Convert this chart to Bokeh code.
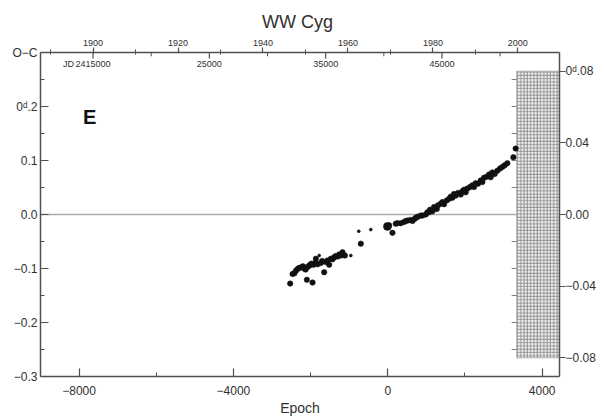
from bokeh.plotting import figure
from bokeh.models import Range1d, LinearAxis, FixedTicker, Label, Span
from bokeh.embed import file_html
from bokeh.resources import INLINE
from bokeh.core.properties import value

# ---------------- data ----------------
title_text = "WW  Cyg"
y_label = "O\u2212C"
x_label = "Epoch"
panel_letter = "E"

period = 3.3177          # days
t0_jd = 2440341          # JD of epoch 0
t0_year = 1969.38        # year of epoch 0

epoch = [-2530, -2467, -2420, -2380, -2338, -2300, -2252, -2200, -2167, -2130,
         -2097, -2079, -2040, -2011, -1980, -1950, -1924, -1880, -1864, -1820,
         -1778, -1735, -1700, -1649, -1605, -1560, -1520, -1476, -1430, -1390,
         -1350, -1303, -1260, -1217, -1174, -1113, -958,
         -751, -699, -440,
         -9, 34, 121, 207, 250, 337, 420, 466, 520, 595,
         640, 700, 725, 780, 854, 897, 984, 1027, 1070, 1096,
         1156, 1200, 1269, 1303, 1372, 1415, 1458, 1528, 1588, 1631,
         1674, 1717, 1761, 1821, 1890, 1933, 1976, 2019, 2063, 2132,
         2192, 2235, 2278, 2339, 2408, 2451, 2494, 2563, 2623, 2667,
         2710, 2770, 2839, 2908, 2969, 3029, 3098, 3254, 3314]
o_c = [-0.128, -0.110, -0.109, -0.104, -0.101, -0.099, -0.098, -0.096, -0.100, -0.102,
       -0.121, -0.097, -0.095, -0.093, -0.091, -0.126, -0.093, -0.090, -0.082, -0.092,
       -0.076, -0.090, -0.086, -0.107, -0.088, -0.085, -0.093, -0.082, -0.083, -0.079,
       -0.077, -0.078, -0.074, -0.076, -0.070, -0.076, -0.076,
       -0.031, -0.054, -0.028,
       -0.022, -0.020, -0.034, -0.017, -0.016, -0.016, -0.014, -0.012, -0.011, -0.010,
       -0.012, -0.008, -0.006, -0.004, -0.002, -0.002, 0.000, 0.004, 0.004, 0.009,
       0.006, 0.014, 0.010, 0.017, 0.020, 0.023, 0.019, 0.026, 0.029, 0.033,
       0.031, 0.038, 0.035, 0.040, 0.037, 0.043, 0.046, 0.041, 0.048, 0.051,
       0.054, 0.051, 0.058, 0.057, 0.063, 0.060, 0.068, 0.070, 0.074, 0.069,
       0.078, 0.075, 0.081, 0.085, 0.088, 0.091, 0.095, 0.106, 0.122]
weight = [2] * 20 + [1] + [2] * 15 + [1] + [1, 2, 1] + [3] + [2] * 58

x_start, x_end = -9000, 4450
y_start, y_end = -0.3, 0.3

x_ticks = [-8000, -4000, 0, 4000]
x_minor = [-6000, -2000, 2000]
x_labels = ["\u22128000", "\u22124000", "0", "4000"]

y_ticks = [-0.3, -0.2, -0.1, 0.0, 0.1, 0.2, 0.3]
y_minor = [-0.25, -0.15, -0.05, 0.05, 0.15, 0.25]
y_labels = ["\u22120.3", "\u22120.2", "\u22120.1", "0.0", "0.1", "0\u1d48.2", y_label]

phase_ticks = [-0.08, -0.04, 0.0, 0.04, 0.08]
phase_labels = ["\u22120.08", "\u22120.04", "0.00", "0.04", "0\u1d48.08"]

year_ticks = [1900, 1920, 1940, 1960, 1980, 2000]
year_minor = [1890, 1910, 1930, 1950, 1970, 1990]

jd_ticks = [2415000, 2425000, 2435000, 2445000]
jd_minor = [2420000, 2430000, 2440000, 2450000]
jd_labels = ["2415000", "25000", "35000", "45000"]

hatch_left = 3340
hatch_phase = 0.08
hatch_ticks = [-0.25, -0.2, -0.15, -0.1, -0.05, 0.05, 0.1, 0.15, 0.2, 0.25]

# ---------------- figure ----------------
FONT = "Liberation Sans"
AX = "#505050"
TXT = "#303030"

p = figure(width=605, height=418, output_backend="svg", toolbar_location=None,
           x_range=Range1d(x_start, x_end), y_range=Range1d(y_start, y_end),
           min_border_left=40, min_border_right=46, min_border_top=52,
           min_border_bottom=42, x_axis_location=None, y_axis_location=None)
p.outline_line_color = None
p.xgrid.visible = False
p.ygrid.visible = False
p.background_fill_color = "white"
p.border_fill_color = "white"

p.title.text = title_text
p.title.align = "center"
p.title.text_font = FONT
p.title.text_font_size = "18px"
p.title.text_font_style = "normal"
p.title.text_color = TXT
p.title.standoff = 10

p.extra_y_ranges = {"phase": Range1d(y_start / period, y_end / period)}
p.extra_x_ranges = {
    "year": Range1d(t0_year + x_start * period / 365.25, t0_year + x_end * period / 365.25),
    "jd": Range1d(t0_jd + x_start * period, t0_jd + x_end * period),
}


def style(ax, size="12px"):
    ax.axis_line_color = AX
    ax.axis_line_width = 1.5
    ax.major_tick_line_color = AX
    ax.minor_tick_line_color = AX
    ax.major_tick_line_width = 1.2
    ax.minor_tick_line_width = 1.0
    ax.major_label_text_font = FONT
    ax.major_label_text_font_size = size
    ax.major_label_text_color = TXT
    ax.axis_label_standoff = 0


# bottom axis
xb = LinearAxis(ticker=FixedTicker(ticks=x_ticks, minor_ticks=x_minor))
style(xb)
xb.major_tick_in, xb.major_tick_out = 8, 0
xb.minor_tick_in, xb.minor_tick_out = 4, 0
xb.major_label_standoff = 9
xb.major_label_overrides = dict(zip(x_ticks, x_labels))
xb.axis_label = x_label
xb.axis_label_text_font = FONT
xb.axis_label_text_font_size = "14px"
xb.axis_label_text_font_style = "normal"
xb.axis_label_text_color = TXT
xb.axis_label_standoff = 2
p.add_layout(xb, "below")

# left axis
yl = LinearAxis(ticker=FixedTicker(ticks=y_ticks, minor_ticks=y_minor))
style(yl)
yl.major_tick_in, yl.major_tick_out = 8, 0
yl.minor_tick_in, yl.minor_tick_out = 4, 0
yl.major_label_standoff = 3
yl.major_label_overrides = dict(zip(y_ticks, y_labels))
p.add_layout(yl, "left")

# right axis (phase units)
yr = LinearAxis(y_range_name="phase", ticker=FixedTicker(ticks=phase_ticks, minor_ticks=[]))
style(yr)
yr.major_tick_in, yr.major_tick_out = 0, 6
yr.minor_tick_in, yr.minor_tick_out = 0, 0
yr.major_label_standoff = 0
yr.major_label_overrides = dict(zip(phase_ticks, phase_labels))
p.add_layout(yr, "right")

# top axis (years)
xt = LinearAxis(x_range_name="year", ticker=FixedTicker(ticks=year_ticks, minor_ticks=year_minor))
style(xt, "9px")
xt.major_tick_in, xt.major_tick_out = 0, 5
xt.minor_tick_in, xt.minor_tick_out = 2, 3
xt.major_label_standoff = 2
p.add_layout(xt, "above")

# zero line
p.add_layout(Span(location=0, dimension="width", line_color="#ababab",
                  line_width=1.6, level="underlay"))

# hatched region
p.quad(left=[hatch_left], right=[x_end], bottom=[-hatch_phase], top=[hatch_phase],
       y_range_name="phase", fill_color="#f2f2f2", line_color="#909090", line_width=0.6,
       hatch_pattern="+", hatch_scale=3.3, hatch_color="#858585", hatch_weight=0.9)
p.segment(x0=[hatch_left - 130] * len(hatch_ticks), x1=[hatch_left] * len(hatch_ticks),
          y0=hatch_ticks, y1=hatch_ticks, line_color="#808080", line_width=1)

# JD ticks and labels along top, inside frame
p.segment(x0=jd_ticks, x1=jd_ticks, y0=[y_end] * 4, y1=[y_end - 0.011] * 4,
          x_range_name="jd", line_color=AX, line_width=1.2)
p.segment(x0=jd_minor, x1=jd_minor, y0=[y_end] * 4, y1=[y_end - 0.007] * 4,
          x_range_name="jd", line_color=AX, line_width=1.0)
p.text(x=jd_ticks, y=[y_end - 0.021] * 4, text=jd_labels, x_range_name="jd",
       text_font=value(FONT), text_font_size="9px", text_color=TXT,
       text_align="center", text_baseline="middle")
p.add_layout(Label(x=jd_ticks[0], y=y_end - 0.021, x_range_name="jd", x_offset=-19,
                   text="JD", text_font=FONT, text_font_size="9px", text_color=TXT,
                   text_align="right", text_baseline="middle"))

# data points
sizes = [{1: 3, 2: 5.5, 3: 8}[w] for w in weight]
p.scatter(x=epoch, y=o_c, size=sizes, marker="circle", fill_color="#111111",
          line_color="#111111", line_width=0.5)

# panel letter
p.add_layout(Label(x=-7900, y=0.18, text=panel_letter, text_font=FONT,
                   text_font_size="20px", text_font_style="bold", text_color="#111111",
                   text_align="left", text_baseline="middle"))

open("out.html", "w").write(file_html(p, INLINE))
